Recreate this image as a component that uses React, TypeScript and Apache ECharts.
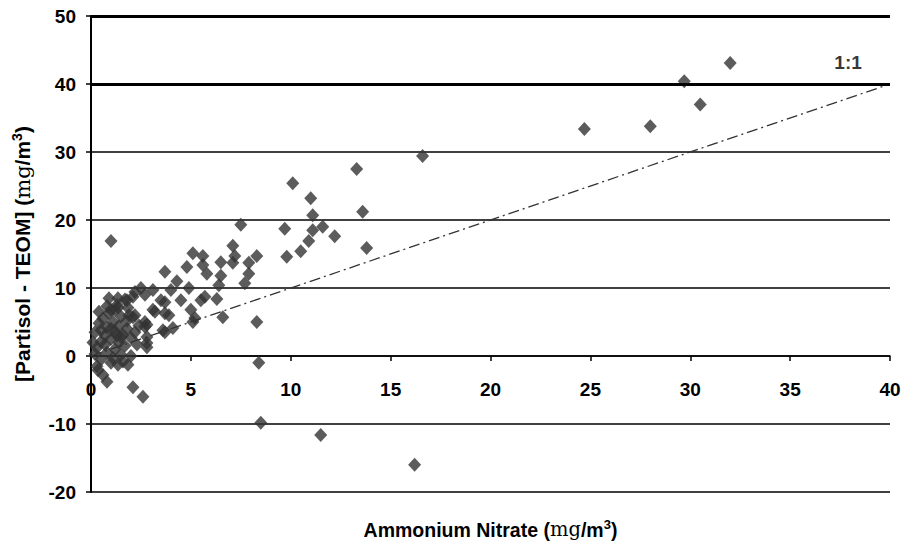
import React, { useEffect, useRef } from "react";
import * as echarts from "echarts";

// Ammonium nitrate (x) and [Partisol - TEOM] difference (y)
const nitrate: number[] = [
  32.0, 29.7, 30.5, 28.0, 24.7, 16.6, 13.3, 13.6, 13.8, 10.1, 11.0, 11.1, 11.6, 11.1, 12.2, 10.9, 10.5, 9.8, 9.7,
  16.2, 11.5, 8.5, 8.4, 8.3, 6.6, 7.5, 7.1, 7.2, 7.1, 6.5, 7.9, 8.3, 7.9, 7.7, 6.5, 6.4, 5.8, 5.6, 5.6, 5.7, 6.3,
  5.1, 4.8, 3.7, 4.3, 4.0, 4.9, 3.1, 2.7, 2.5, 2.1, 3.5, 4.5, 5.0, 5.5, 3.1, 3.9, 5.2, 5.1, 4.1, 3.6, 2.7, 2.8,
  1.8, 2.1, 1.0, 1.0, 1.35, 1.85, 2.2, 3.2, 2.8, 3.7, 2.8, 1.85, 0.8, 2.1, 2.6, 0.35, 1.35, 1.35, 2.7, 2.8, 3.7,
  3.7, 2.2,
  0.2, 0.3, 0.4, 0.5, 0.5, 0.6, 0.7, 0.8, 0.8, 0.9, 1.0, 1.0, 1.1, 1.2, 1.2, 1.3, 1.4, 1.4, 1.5, 1.5, 1.6, 1.7,
  1.7, 1.8, 1.9, 2.0, 2.0, 0.3, 0.6, 0.2, 0.4, 1.1, 0.9, 1.3, 0.7, 1.6, 0.1, 0.5, 1.0, 1.5, 2.2, 2.4, 2.3, 1.8,
  1.2, 0.8,
];
const difference: number[] = [
  43.1, 40.4, 37.0, 33.8, 33.4, 29.4, 27.5, 21.2, 15.9, 25.4, 23.2, 20.7, 19.0, 18.5, 17.6, 16.9, 15.4, 14.6, 18.7,
  -16.0, -11.6, -9.8, -1.0, 5.0, 5.7, 19.3, 16.2, 14.7, 13.7, 13.8, 13.7, 14.7, 12.1, 10.7, 11.8, 10.4, 12.1, 14.7,
  13.4, 8.7, 8.4,
  15.1, 13.1, 12.4, 11.0, 9.7, 10.0, 9.7, 9.0, 10.0, 8.7, 8.2, 8.2, 6.8, 8.2, 6.8, 6.0, 5.6, 5.0, 4.1, 3.8, 5.0, 2.8,
  8.2, 5.7, 16.9, 6.8, 7.1, 7.1, 6.0, 6.5, 4.6, 6.3, 1.9, -1.3, -3.8, -4.6, -6.0, -2.1, -1.3, 8.5, 4.3, 1.3, 3.5,
  7.9, 9.4,
  3.5, 1.2, 4.8, 2.1, -0.5, 5.5, 3.0, 0.5, 4.2, 6.3, 2.5, -1.0, 5.0, 3.6, 1.0, 7.5, 4.4, 2.0, 0.2, 5.8, 3.1, 8.3,
  1.5, 4.0, 6.0, 2.7, 0.0, -1.5, -2.8, 0.3, 6.5, -0.3, 8.5, 3.0, 1.7, -0.8, 2.0, 3.8, 4.0, 2.8, 3.5, 4.5, 1.7, 5.2,
  6.8, 7.3,
];
const oneToOneX: number[] = [0, 40];
const oneToOneY: number[] = [0, 40];
const heavyLines: number[] = [40, 50];

const xTitle = "Ammonium Nitrate (";
const yTitle = "[Partisol - TEOM] (";
const ratioLabel = "1:1";

const FONT = "'Liberation Sans', Arial, sans-serif";
const GRID_BOTTOM = 54;
const HEIGHT = 546;

function rich(size: number) {
  return {
    b: { fontFamily: FONT, fontWeight: "bold", fontSize: size, color: "#000" },
    mu: { fontFamily: "'DejaVu Serif', serif", fontWeight: "normal", fontSize: size, color: "#000" },
    sup: {
      fontFamily: FONT,
      fontWeight: "bold",
      fontSize: Math.round(size * 0.65),
      color: "#000",
      verticalAlign: "top",
      padding: [0, 0, Math.round(size * 0.5), 0],
    },
  };
}

export default function App() {
  const ref = useRef<HTMLDivElement>(null);
  useEffect(() => {
    if (!ref.current) return;
    const chart = echarts.init(ref.current, undefined, { renderer: "svg" });
    const points = nitrate.map((x, i) => [x, difference[i]]);
    const diag = oneToOneX.map((x, i) => [x, oneToOneY[i]]);
    const xAxisBase = {
      type: "value",
      min: 0,
      max: 40,
      interval: 5,
      name: `{b|${xTitle}}{mu|mg}{b|/m}{sup|3}{b|)}`,
      nameLocation: "middle",
      nameGap: 162,
      nameTextStyle: { rich: rich(19.5) },
      axisLine: { onZero: false, lineStyle: { color: "#000", width: 1.5 } },
      axisTick: { show: true, inside: false, length: 5, lineStyle: { color: "#000", width: 1.5 } },
      axisLabel: { margin: 24, fontFamily: FONT, fontWeight: "bold", fontSize: 19, color: "#000" },
      splitLine: { show: false },
    };
    chart.setOption({
      animation: false,
      grid: { left: 91, right: 16, top: 16, bottom: GRID_BOTTOM, containLabel: false, outerBoundsMode: "none" },
      xAxis: xAxisBase,
      yAxis: {
        type: "value",
        min: -20,
        max: 50,
        interval: 10,
        name: `{b|${yTitle}}{mu|mg}{b|/m}{sup|3}{b|)}`,
        nameLocation: "middle",
        nameGap: 56,
        nameTextStyle: { rich: rich(21) },
        axisLine: { onZero: false, lineStyle: { color: "#000", width: 2 } },
        axisTick: { show: true, inside: false, length: 5, lineStyle: { color: "#000", width: 1.5 } },
        axisLabel: { margin: 15, fontFamily: FONT, fontWeight: "bold", fontSize: 19, color: "#000" },
        splitLine: { show: true, lineStyle: { color: "#000", width: 1.5 } },
      },
      series: [
        {
          type: "line",
          data: diag,
          symbol: "none",
          silent: true,
          lineStyle: { color: "#333", width: 1.3, type: [11, 4, 2, 4] },
          markLine: {
            silent: true,
            symbol: "none",
            label: { show: false },
            lineStyle: { color: "#000", width: 3, type: "solid" },
            data: heavyLines.map((v) => ({ yAxis: v })),
          },
          z: 3,
        },
        {
          type: "scatter",
          data: points,
          symbol: "diamond",
          symbolSize: [13, 14],
          itemStyle: { color: "#333333" },
          z: 4,
        },
        {
          type: "scatter",
          data: [[37.9, 43.2]],
          symbolSize: 0,
          silent: true,
          label: {
            show: true,
            position: "inside",
            formatter: ratioLabel,
            fontFamily: FONT,
            fontWeight: "bold",
            fontSize: 19,
            color: "#000",
          },
          z: 5,
        },
      ],
    });
    // place the x axis where y = 0, using the library's own y scale
    const zeroPx = chart.convertToPixel({ yAxisIndex: 0 }, 0) as number;
    const bottomPx = HEIGHT - GRID_BOTTOM;
    if (typeof zeroPx === "number" && isFinite(zeroPx)) {
      chart.setOption({ xAxis: { offset: -(bottomPx - zeroPx) } });
    }
    return () => chart.dispose();
  }, []);
  return (
    <div
      ref={ref}
      style={{ position: "fixed", left: 0, top: 0, width: 906, height: HEIGHT, background: "#fff" }}
    />
  );
}
